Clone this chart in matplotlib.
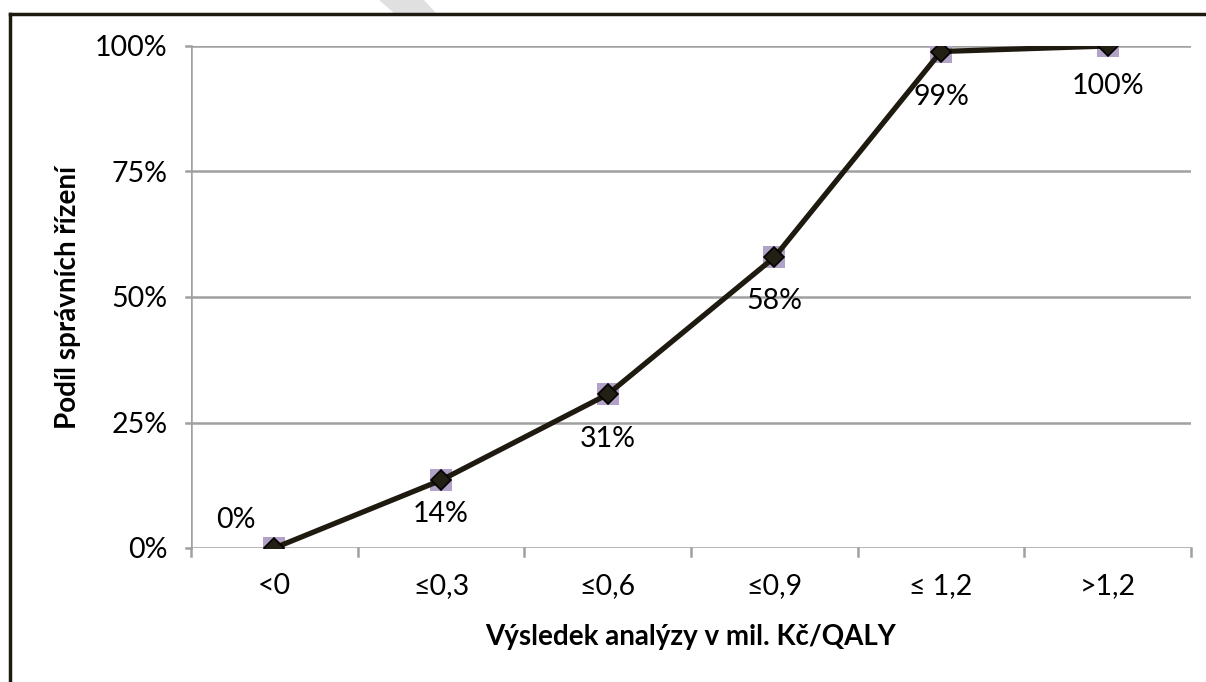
import matplotlib.pyplot as plt
from matplotlib.lines import Line2D
from matplotlib.patches import Polygon

categories = ['<0', '≤0,3', '≤0,6', '≤0,9', '≤ 1,2', '>1,2']
shares = [0, 13.5, 30.6, 57.9, 98.9, 100]
labels = ['0%', '14%', '31%', '58%', '99%', '100%']
yticks = [0, 25, 50, 75, 100]

plt.rcParams['font.family'] = ['Lato', 'DejaVu Sans']

fig = plt.figure(figsize=(12.06, 6.82), dpi=100)
ax = fig.add_axes([191 / 1206, 1 - 548 / 682, 1000 / 1206, 502 / 682])

x = list(range(len(categories)))
grid_col = '#a0a0a0'
for v in yticks:
    ax.axhline(v, color=grid_col, lw=1.8, zorder=1)

# purple squares behind the diamonds (Excel marker look)
ax.scatter(x, shares, marker='s', s=235, color='#b3a2c7', zorder=3, linewidths=0)
ax.plot(x, shares, color='#1f1a10', lw=3.8, zorder=4,
        marker='D', markersize=10, markerfacecolor='#221f14',
        markeredgecolor='black', markeredgewidth=1.2)

ax.set_xlim(-0.5, len(categories) - 0.5)
ax.set_ylim(0, 100)
ax.set_yticks(yticks)
ax.set_yticklabels([f'{v}%' for v in yticks], fontsize=20.5)
ax.set_xticks(x)
ax.set_xticklabels(categories, fontsize=20.5)
ax.tick_params(axis='x', length=0, pad=18)
ax.tick_params(axis='y', length=0, pad=17)

# category boundary ticks on x axis
for b in range(len(categories) + 1):
    ax.add_line(Line2D([b - 0.5, b - 0.5], [0, -1.6], color=grid_col, lw=1.8,
                       clip_on=False, zorder=1))
ax.add_line(Line2D([-0.5, -0.5], [0, 100], color=grid_col, lw=1.8, zorder=1))
for v in yticks:
    ax.add_line(Line2D([-0.53, -0.5], [v, v], color=grid_col, lw=1.8,
                       clip_on=False, zorder=1))

for s in ax.spines.values():
    s.set_visible(False)

# data labels
offsets = [(-38, 28), (0, -34), (0, -45), (0, -44), (0, -45), (0, -40)]
for xi, yi, lab, (dx, dy) in zip(x, shares, labels, offsets):
    ax.annotate(lab, (xi, yi), xytext=(dx, dy), textcoords='offset pixels',
                ha='center', va='center', fontsize=20.5, zorder=5)

ax.set_xlabel('Výsledek analýzy v mil. Kč/QALY', fontsize=20, fontweight='bold', labelpad=18)
ax.set_ylabel('Podíl správních řízení', fontsize=20, fontweight='bold', labelpad=10)

# chart border (left and top visible)
fig.add_artist(Line2D([10 / 1206, 10 / 1206], [0, 1 - 14 / 682], color='#1f1a10', lw=2.5,
                      transform=fig.transFigure))
fig.add_artist(Line2D([10 / 1206, 1], [1 - 14 / 682, 1 - 14 / 682], color='#1f1a10', lw=2.5,
                      transform=fig.transFigure))
fig.add_artist(Polygon([[380 / 1206, 1], [423 / 1206, 1], [435 / 1206, 1 - 13 / 682],
                        [395 / 1206, 1 - 13 / 682]], closed=True, color='#e0e0e0',
                       transform=fig.transFigure, zorder=0))

fig.savefig('out.png', dpi=100)
